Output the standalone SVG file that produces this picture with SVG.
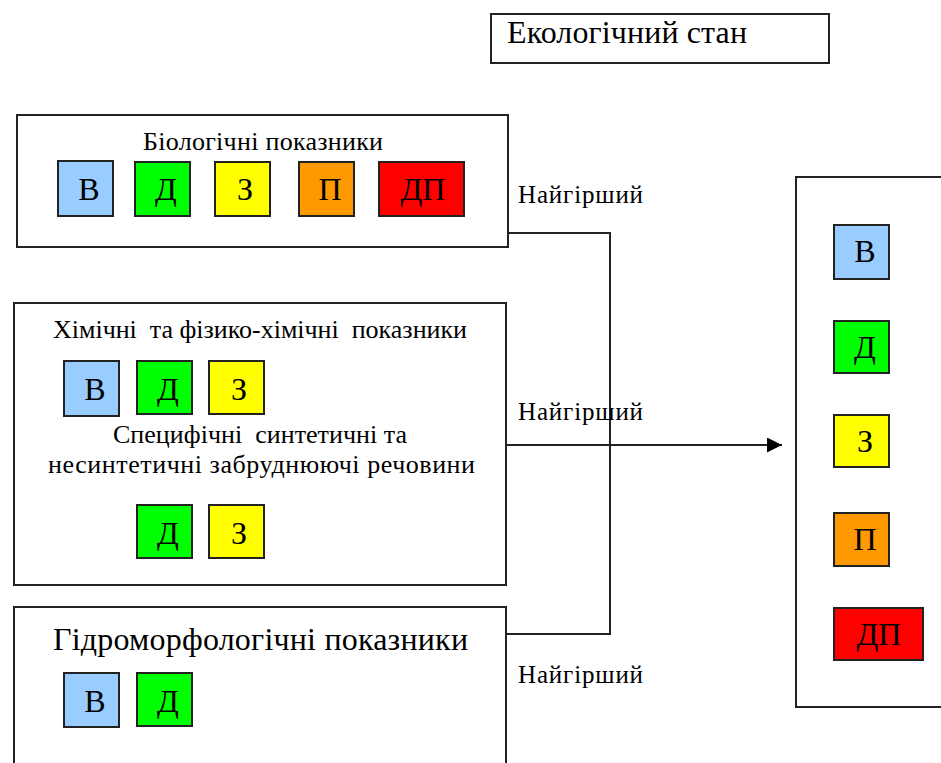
<svg xmlns="http://www.w3.org/2000/svg" width="941" height="763" viewBox="0 0 941 763">
<style>
.box{fill:#fff;stroke:#222;stroke-width:2}
.sq{stroke:#222;stroke-width:2}
.b{fill:#99ccff}.g{fill:#00ff00}.y{fill:#ffff00}.o{fill:#ff9900}.r{fill:#ff0000}
text{fill:#000;font-family:'Liberation Serif','Times New Roman',serif}
.t26{font-size:26px}.t32{font-size:32px}
.lt{font-size:32px;text-anchor:middle}
.lbl{font-size:25px}
.con{fill:none;stroke:#222;stroke-width:2}
</style>
<defs>
<marker id="ah" markerWidth="16" markerHeight="16" refX="15" refY="7.5" orient="auto" markerUnits="userSpaceOnUse">
<path d="M0,0 L15,7.5 L0,15 Z" fill="#000"/>
</marker>
</defs>

<g id="title">
<rect class="box" x="491" y="14" width="338" height="49"/>
<text class="t32" x="507" y="43" textLength="240">Екологічний стан</text>
</g>

<g id="connectors">
<polyline class="con" points="506,233 610,233 610,634 506,634"/>
<line class="con" x1="506" y1="445" x2="782" y2="445" marker-end="url(#ah)"/>
<text class="lbl" x="518" y="203" textLength="125">Найгірший</text>
<text class="lbl" x="518" y="420" textLength="125">Найгірший</text>
<text class="lbl" x="518" y="683" textLength="125">Найгірший</text>
</g>

<g id="bio">
<rect class="box" x="17" y="115" width="491" height="132"/>
<text class="t26" x="143" y="150" textLength="240">Біологічні показники</text>
<rect class="sq b" x="58" y="161" width="55" height="55"/>
<text class="lt" x="89" y="200">В</text>
<rect class="sq g" x="135" y="162" width="55" height="54"/>
<text class="lt" x="166" y="200">Д</text>
<rect class="sq y" x="215" y="162" width="55" height="54"/>
<text class="lt" x="245" y="200">З</text>
<rect class="sq o" x="299" y="162" width="55" height="54"/>
<text class="lt" x="330" y="200">П</text>
<rect class="sq r" x="379" y="162" width="85" height="54"/>
<text class="lt" x="423" y="200">ДП</text>
</g>

<g id="chem">
<rect class="box" x="14" y="303" width="492" height="282"/>
<text class="t26" x="53" y="338" textLength="414" xml:space="preserve">Хімічні  та фізико-хімічні  показники</text>
<rect class="sq b" x="64" y="361" width="55" height="55"/>
<text class="lt" x="95" y="400">В</text>
<rect class="sq g" x="137" y="361" width="55" height="53"/>
<text class="lt" x="168" y="400">Д</text>
<rect class="sq y" x="209" y="361" width="55" height="53"/>
<text class="lt" x="239" y="400">З</text>
<text class="t26" x="113" y="443" textLength="294" xml:space="preserve">Специфічні  синтетичні та</text>
<text class="t26" x="48" y="473" textLength="427">несинтетичні забруднюючі речовини</text>
<rect class="sq g" x="137" y="505" width="55" height="53"/>
<text class="lt" x="168" y="544">Д</text>
<rect class="sq y" x="209" y="505" width="55" height="53"/>
<text class="lt" x="239" y="544">З</text>
</g>

<g id="hydro">
<rect class="box" x="14" y="607" width="492" height="170"/>
<text class="t32" x="53" y="650" textLength="415">Гідроморфологічні показники</text>
<rect class="sq b" x="64" y="673" width="55" height="54"/>
<text class="lt" x="95" y="712">В</text>
<rect class="sq g" x="137" y="673" width="55" height="53"/>
<text class="lt" x="168" y="712">Д</text>
</g>

<g id="result">
<rect class="box" x="796" y="177" width="160" height="530"/>
<rect class="sq b" x="834" y="225" width="55" height="54"/>
<text class="lt" x="865" y="262">В</text>
<rect class="sq g" x="834" y="321" width="55" height="52"/>
<text class="lt" x="865" y="358">Д</text>
<rect class="sq y" x="834" y="415" width="55" height="52"/>
<text class="lt" x="865" y="452">З</text>
<rect class="sq o" x="834" y="513" width="55" height="53"/>
<text class="lt" x="865" y="550">П</text>
<rect class="sq r" x="834" y="608" width="89" height="52"/>
<text class="lt" x="879" y="645">ДП</text>
</g>
</svg>
